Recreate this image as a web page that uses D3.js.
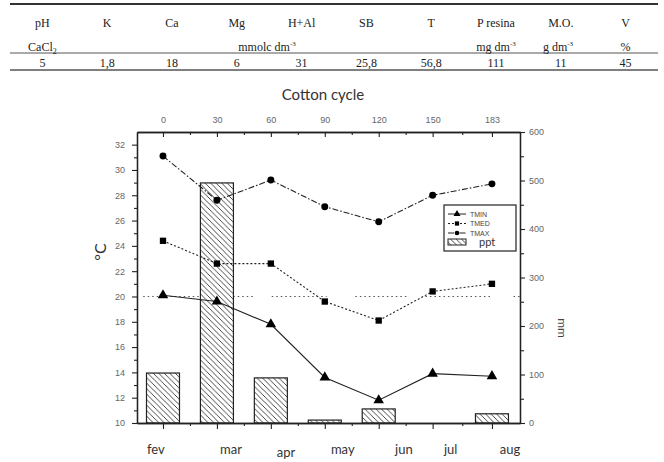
<!DOCTYPE html>
<html>
<head>
<meta charset="utf-8">
<script src="https://cdn.jsdelivr.net/npm/d3@7"></script>
<style>
  body { margin: 0; background: #fff; }
  svg { display: block; }
</style>
</head>
<body>
<svg width="664" height="462"></svg>
<script>
// soil table
const tableHead = ["pH", "K", "Ca", "Mg", "H+Al", "SB", "T", "P resina", "M.O.", "V"]
const tableVals = ["5", "1,8", "18", "6", "31", "25,8", "56,8", "111", "11", "45"]

// chart data (days of cotton cycle)
const days = [0, 30, 60, 90, 120, 150, 183]
const months = ["fev", "mar", "apr", "may", "jun", "jul", "aug"]
const monthLabelDays = [-4, 37.8, 68.4, 100, 134, 160, 193]
const tmax = [31.1, 27.6, 29.2, 27.1, 25.9, 28.0, 28.9]
const tmed = [24.4, 22.6, 22.6, 19.6, 18.1, 20.4, 21.0]
const tmin = [20.1, 19.6, 17.8, 13.6, 11.8, 13.9, 13.7]
const ppt = [103, 495, 93, 6, 29, 0, 19]
const refTemp = 20
const refSegs = [[-11, 50], [60.5, 91], [107, 137], [146, 183.5], [195, 198.6]]

const svg = d3.select("svg")
const ink = "#222", grey = "#555"

// ---- table ----
const tbl = svg.append("g").style("font-family", "'Liberation Serif', serif").style("font-size", "12px").attr("fill", "#222")
const colX = d3.scaleBand().domain(d3.range(10)).range([10, 658])
tbl.append("line").attr("x1", 10).attr("x2", 658).attr("y1", 4).attr("y2", 4).attr("stroke", "#333").attr("stroke-width", 2)
tbl.append("line").attr("x1", 10).attr("x2", 658).attr("y1", 53).attr("y2", 53).attr("stroke", "#555").attr("stroke-width", 1)
tbl.append("line").attr("x1", 10).attr("x2", 658).attr("y1", 70).attr("y2", 70).attr("stroke", "#555").attr("stroke-width", 1.5)
tbl.selectAll("text.h").data(tableHead).join("text").attr("class", "h")
    .attr("x", (d, i) => colX(i) + colX.bandwidth() / 2).attr("y", 27)
    .attr("text-anchor", "middle").text(d => d)
tbl.selectAll("text.v").data(tableVals).join("text").attr("class", "v")
    .attr("x", (d, i) => colX(i) + colX.bandwidth() / 2).attr("y", 67)
    .attr("text-anchor", "middle").text(d => d)

// units row
const cacl = tbl.append("text").attr("x", colX(0) + colX.bandwidth() / 2).attr("y", 51).attr("text-anchor", "middle")
cacl.append("tspan").text("CaCl")
cacl.append("tspan").attr("font-size", "8px").attr("dy", 3).text("2")
function unit(x, main) {
    const t = tbl.append("text").attr("x", x).attr("y", 51).attr("text-anchor", "middle")
    t.append("tspan").text(main)
    t.append("tspan").attr("font-size", "7px").attr("dy", -5).text("-3")
}
unit(267, "mmolc dm")
unit(colX(7) + colX.bandwidth() / 2, "mg dm")
unit(558, "g dm")
tbl.append("text").attr("x", colX(9) + colX.bandwidth() / 2).attr("y", 51).attr("text-anchor", "middle").text("%")

// ---- chart ----
const L = 137, R = 520, T = 132, B = 423
const x = d3.scaleLinear().domain([-14.46, 198.6]).range([L, R])
const yT = d3.scaleLinear().domain([10, 33]).range([B, T])
const yP = d3.scaleLinear().domain([0, 600]).range([B, T])

// hatch pattern
svg.append("defs").append("pattern").attr("id", "hatch")
    .attr("patternUnits", "userSpaceOnUse").attr("width", 5.5).attr("height", 5.5)
    .append("path").attr("d", "M-1,-1L6.5,6.5M-1,4.5L1,6.5M4.5,-1L6.5,1")
    .attr("stroke", "#333").attr("stroke-width", 0.9)

// reference line at 20 C
svg.append("g").selectAll("line").data(refSegs).join("line")
    .attr("x1", d => x(d[0])).attr("x2", d => x(d[1]))
    .attr("y1", yT(refTemp)).attr("y2", yT(refTemp))
    .attr("stroke", grey).attr("stroke-width", 1.1).attr("stroke-dasharray", "1.5,3")

// rain bars
const bw = 33
const bars = svg.append("g")
bars.selectAll("rect.bg").data(ppt).join("rect").attr("class", "bg")
    .attr("x", (d, i) => x(days[i]) - bw / 2).attr("width", bw)
    .attr("y", d => yP(d)).attr("height", d => B - yP(d))
    .attr("fill", "#fff")
bars.selectAll("rect.fg").data(ppt).join("rect").attr("class", "fg")
    .attr("x", (d, i) => x(days[i]) - bw / 2).attr("width", bw)
    .attr("y", d => yP(d)).attr("height", d => B - yP(d))
    .attr("fill", "url(#hatch)").attr("stroke", ink).attr("stroke-width", 1.2)
    .attr("display", d => d > 0 ? null : "none")

// temperature lines
const series = [
    { name: "TMIN", vals: tmin, dash: null, mark: d3.symbolTriangle, size: 48 },
    { name: "TMED", vals: tmed, dash: "2,2", mark: d3.symbolSquare, size: 40 },
    { name: "TMAX", vals: tmax, dash: "6,2,1.5,2", mark: d3.symbolCircle, size: 38 }
]
const line = d3.line().x((d, i) => x(days[i])).y(d => yT(d))
series.forEach(s => {
    svg.append("path").datum(s.vals).attr("d", line)
        .attr("fill", "none").attr("stroke", ink).attr("stroke-width", 1.1)
        .attr("stroke-dasharray", s.dash)
    svg.append("g").selectAll("path").data(s.vals).join("path")
        .attr("d", d3.symbol(s.mark, s.size))
        .attr("transform", (d, i) => `translate(${x(days[i])},${yT(d)})`)
        .attr("fill", "#000")
})

// axes
const axisStyle = g => {
    g.selectAll(".domain").attr("stroke", ink).attr("stroke-width", 1.3)
    g.selectAll(".tick line").attr("stroke", ink).attr("stroke-width", 1.1)
    g.selectAll("text").attr("fill", "#666").style("font-family", "'Liberation Sans', Arial, sans-serif").style("font-size", "9px")
}
// left
svg.append("g").attr("transform", `translate(${L},0)`)
    .call(d3.axisLeft(yT).tickValues(d3.range(11, 33, 2)).tickSize(3).tickFormat("").tickSizeOuter(0)).call(axisStyle)
svg.append("g").attr("transform", `translate(${L},0)`)
    .call(d3.axisLeft(yT).tickValues(d3.range(10, 33, 2)).tickSize(5).tickPadding(7).tickSizeOuter(0)).call(axisStyle)
// right
svg.append("g").attr("transform", `translate(${R},0)`)
    .call(d3.axisRight(yP).tickValues(d3.range(50, 600, 100)).tickSize(4).tickFormat("").tickSizeOuter(0)).call(axisStyle)
svg.append("g").attr("transform", `translate(${R},0)`)
    .call(d3.axisRight(yP).tickValues(d3.range(0, 601, 100)).tickSize(5).tickPadding(4).tickSizeOuter(0)).call(axisStyle)
// top (ticks inward)
svg.append("g").attr("transform", `translate(0,${T})`)
    .call(d3.axisTop(x).tickValues([15, 45, 75, 105, 135, 166.5]).tickSize(-3).tickFormat("").tickSizeOuter(0)).call(axisStyle)
svg.append("g").attr("transform", `translate(0,${T})`)
    .call(d3.axisTop(x).tickValues(days).tickSize(-5).tickPadding(9).tickSizeOuter(0)).call(axisStyle)
// bottom
svg.append("g").attr("transform", `translate(0,${B})`)
    .call(d3.axisBottom(x).tickValues([15, 45, 75, 105, 135, 166.5]).tickSize(3).tickFormat("").tickSizeOuter(0)).call(axisStyle)
svg.append("g").attr("transform", `translate(0,${B})`)
    .call(d3.axisBottom(x).tickValues(days).tickSize(6).tickFormat("").tickSizeOuter(0)).call(axisStyle)

// month labels
svg.append("g").selectAll("text").data(months).join("text")
    .attr("x", (d, i) => x(monthLabelDays[i]))
    .attr("y", d => d === "apr" ? 457 : 454)
    .attr("text-anchor", "middle").attr("fill", "#333")
    .style("font-family", "Lato, 'Open Sans', sans-serif").style("font-size", "13px")
    .text(d => d)

// titles
svg.append("text").attr("x", 323).attr("y", 100).attr("text-anchor", "middle")
    .attr("fill", "#333").style("font-family", "Lato, sans-serif").style("font-size", "15px").text("Cotton cycle")
svg.append("text").attr("transform", "translate(106,252) rotate(-90)").attr("text-anchor", "middle")
    .attr("fill", "#333").style("font-family", "Lato, sans-serif").style("font-size", "16px").text("°C")
svg.append("text").attr("transform", "translate(558,328) rotate(90)").attr("text-anchor", "middle")
    .attr("fill", "#444").style("font-family", "Lato, sans-serif").style("font-size", "12px").text("mm")

// legend
const lg = svg.append("g").attr("transform", "translate(444,205)")
lg.append("rect").attr("width", 72).attr("height", 46).attr("fill", "#fff").attr("stroke", ink).attr("stroke-width", 1.2)
series.forEach((s, i) => {
    const yy = 9 + i * 9.5
    lg.append("line").attr("x1", 4).attr("x2", 22).attr("y1", yy).attr("y2", yy)
        .attr("stroke", ink).attr("stroke-width", 1).attr("stroke-dasharray", s.dash)
    lg.append("path").attr("d", d3.symbol(s.mark, s.size * 0.45)).attr("transform", `translate(13,${yy})`).attr("fill", "#000")
    lg.append("text").attr("x", 26).attr("y", yy + 2.5).attr("fill", "#444")
        .style("font-family", "'Liberation Sans', sans-serif").style("font-size", "7px").text(s.name)
})
lg.append("rect").attr("x", 4).attr("y", 34).attr("width", 18).attr("height", 6)
    .attr("fill", "url(#hatch)").attr("stroke", ink).attr("stroke-width", 1)
lg.append("text").attr("x", 35).attr("y", 41).attr("fill", "#333")
    .style("font-family", "Lato, sans-serif").style("font-size", "11px").text("ppt")
</script>
</body>
</html>
